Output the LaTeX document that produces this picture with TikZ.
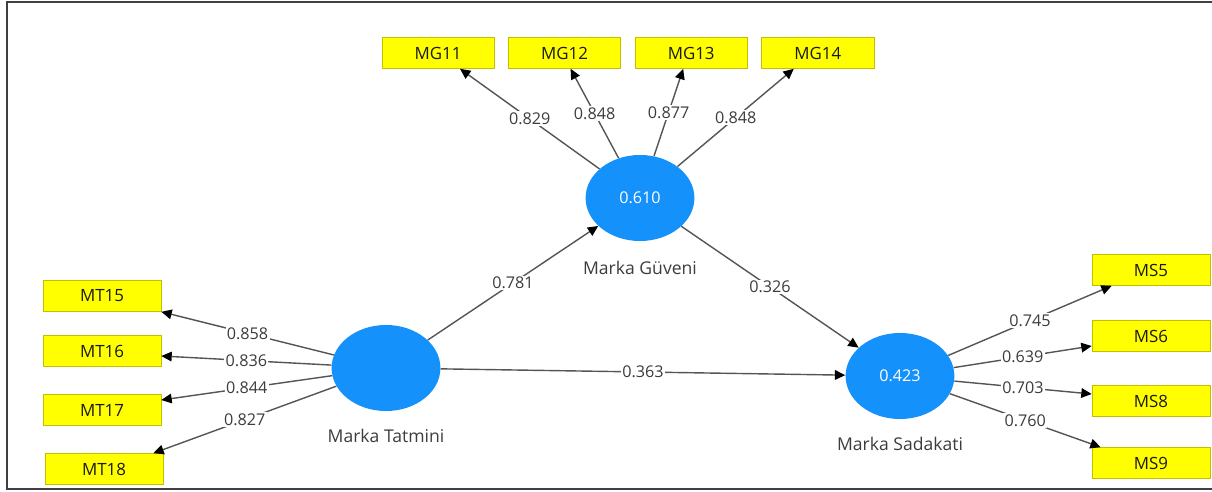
\documentclass[tikz,border=0pt]{standalone}
\usepackage{fontspec}
\setmainfont{Open Sans}
\usepackage{tikz}
\usetikzlibrary{
  arrows.meta,
  positioning,
  shapes.geometric
}
\definecolor{lvblue}{HTML}{1491FA}
\definecolor{itemyellow}{HTML}{FFFF00}
\definecolor{itemedge}{HTML}{C4BE00}
\definecolor{linkgray}{HTML}{555555}
\definecolor{coefgray}{HTML}{3C3C3C}

\begin{document}
\begin{tikzpicture}[
  x=0.025cm, y=-0.025cm,
  item/.style={
    draw=itemedge, fill=itemyellow, minimum width=2.8cm, minimum height=0.775cm,
    inner sep=0pt, font=\fontsize{12}{14}\selectfont, text=black!90,
  },
  itemwide/.style={item, minimum width=2.95cm},
  latent/.style={
    ellipse, fill=lvblue, minimum width=2.72cm, minimum height=2.15cm,
    inner sep=0pt, text=white, font=\fontsize{11.5}{13}\selectfont,
  },
  lvname/.style={font=\fontsize{12.5}{14}\selectfont, text=coefgray, inner sep=1pt},
  coef/.style={pos=0.5, fill=white, inner sep=1pt, font=\fontsize{11.5}{13}\selectfont, text=coefgray},
  link/.style={draw=linkgray, line width=1pt, -{Triangle[length=2.6mm, width=2.4mm, color=black]}},
  frame/.style={draw=black!75, line width=1.5pt},
]
\useasboundingbox (0,0) rectangle (1212,492);

% latent variables
\node[latent] (mg) at (640,198) {0.610};
\node[latent] (mt) at (386,368) {};
\node[latent] (ms) at (900,376) {0.423};
\node[lvname, below=0.45cm of mg] (mgname) {Marka Güveni};
\node[lvname, below=0.4cm of mt] (mtname) {Marka Tatmini};
\node[lvname, below=0.4cm of ms] (msname) {Marka Sadakati};

% indicators
\node[item] (mg11) at (438,53) {MG11};
\node[item, right=0.35cm of mg11] (mg12) {MG12};
\node[item, right=0.35cm of mg12] (mg13) {MG13};
\node[item, right=0.35cm of mg13] (mg14) {MG14};
\node[itemwide] (mt15) at (102,296) {MT15};
\node[itemwide] (mt16) at (102,351) {MT16};
\node[itemwide] (mt17) at (102,410) {MT17};
\node[itemwide] (mt18) at (104,469) {MT18};
\node[itemwide] (ms5) at (1151,270) {MS5};
\node[itemwide] (ms6) at (1151,336) {MS6};
\node[itemwide] (ms8) at (1151,401) {MS8};
\node[itemwide] (ms9) at (1151,463) {MS9};

% outer loadings
\draw[link] (mg) -- ([xshift=0.55cm]mg11.south) node[coef] {0.829};
\draw[link] (mg) -- ([xshift=0.15cm]mg12.south) node[coef] {0.848};
\draw[link] (mg) -- ([xshift=-0.2cm]mg13.south) node[coef] {0.877};
\draw[link] (mg) -- ([xshift=-0.6cm]mg14.south) node[coef] {0.848};
\draw[link] (mt) -- (mt15.south east) node[coef] {0.858};
\draw[link] (mt) -- ([yshift=-0.125cm]mt16.east) node[coef] {0.836};
\draw[link] (mt) -- ([yshift=0.25cm]mt17.east) node[coef] {0.844};
\draw[link] (mt) -- ([xshift=-0.25cm]mt18.north east) node[coef] {0.827};
\draw[link] (ms) -- ([xshift=0.5cm]ms5.south west) node[coef] {0.745};
\draw[link] (ms) -- ([yshift=-0.25cm]ms6.west) node[coef] {0.639};
\draw[link] (ms) -- ([yshift=0.175cm]ms8.west) node[coef] {0.703};
\draw[link] (ms) -- ([xshift=0.225cm]ms9.north west) node[coef] {0.760};

% path coefficients
\draw[link] (mt) -- (mg) node[coef] {0.781};
\draw[link] (mg) -- (ms) node[coef] {0.326};
\draw[link] (mt) -- (ms) node[coef] {0.363};

\draw[frame] (1212,2) -- (7,2) -- (7,489) -- (1212,489);
\end{tikzpicture}
\end{document}
